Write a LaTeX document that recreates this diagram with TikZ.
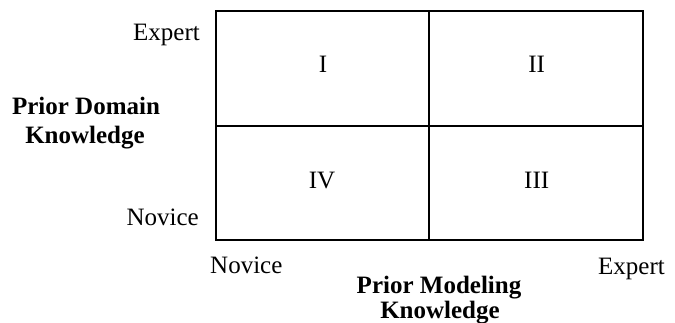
\documentclass[tikz,border=0pt]{standalone}
\usepackage{fontspec}
\setmainfont{Liberation Serif}
\begin{document}
\begin{tikzpicture}[x=1pt,y=-1pt,
  lbl/.style={inner sep=0pt,font=\fontsize{25}{28}\selectfont},
  blbl/.style={inner sep=0pt,font=\fontsize{25}{28}\selectfont\bfseries,align=center},
  grid/.style={line width=2pt}]
\useasboundingbox (0,0) rectangle (675,323);
% grid
\coordinate (tl) at (216,10.7);
\coordinate (br) at (643,240.3);
\coordinate (tm) at (429.3,10.7);
\coordinate (bm) at (429.3,240.3);
\coordinate (ml) at (216,125.7);
\coordinate (mr) at (643,125.7);
\draw[grid] (tl) rectangle (br);
\draw[grid] (tm) -- (bm);
\draw[grid] (ml) -- (mr);
% quadrant labels
\node[lbl,anchor=base] (q1) at (323,72.7) {I};
\node[lbl,anchor=base] (q2) at (536.7,72.7) {II};
\node[lbl,anchor=base] (q4) at (322,188.3) {IV};
\node[lbl,anchor=base] (q3) at (536.7,188.3) {III};
% vertical axis
\node[lbl,anchor=base east] (yexp) at (200,40.7) {Expert};
\node[lbl,anchor=base east] (ynov) at (199,225.3) {Novice};
\node[blbl,anchor=base] (ytitle1) at (86,115) {Prior Domain};
\node[blbl,anchor=base] (ytitle2) at (85,144) {Knowledge};
% horizontal axis
\node[lbl,anchor=base west] (xnov) at (210,274) {Novice};
\node[lbl,anchor=base west] (xexp) at (598,275) {Expert};
\node[blbl,anchor=base] (xtitle1) at (439,293.3) {Prior Modeling};
\node[blbl,anchor=base] (xtitle2) at (440,318) {Knowledge};
\end{tikzpicture}
\end{document}
